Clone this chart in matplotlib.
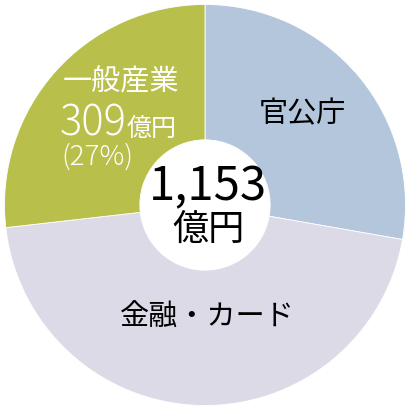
import matplotlib
matplotlib.use("Agg")
import matplotlib.pyplot as plt

plt.rcParams["font.family"] = ["Noto Sans CJK JP", "DejaVu Sans"]

# data (億円), clockwise from 12 o'clock
categories = ["官公庁", "金融・カード", "一般産業"]
values = [320, 524, 309]
colors = ["#B3C6DB", "#DCDAE7", "#B8BF4B"]
total_label = "1,153"
unit = "億円"

PX = 200.5  # pie radius in pixels


def to_data(px, py):
    return (px - 205) / PX, (205 - py) / PX


fig = plt.figure(figsize=(4.11, 4.11), dpi=100)
ax = fig.add_axes([0, 0, 1, 1])
ax.pie(
    values,
    colors=colors,
    startangle=90,
    counterclock=False,
    radius=1.0,
    wedgeprops=dict(width=0.675, edgecolor="white", linewidth=0.6),
)
ax.set_xlim(-205 / PX, 206 / PX)
ax.set_ylim(-206 / PX, 205 / PX)
ax.set_aspect("equal")
ax.axis("off")

# segment labels
ax.text(*to_data(302, 114), categories[0], ha="center", va="center", fontsize=21, color="black")
ax.text(*to_data(207, 318), categories[1], ha="center", va="center", fontsize=21, color="black")
ax.text(*to_data(121, 82), categories[2], ha="center", va="center", fontsize=21, color="white")

# 一般産業 value
ax.text(*to_data(60, 135), str(values[2]), ha="left", va="baseline", fontsize=30,
        fontweight="light", color="white")
ax.text(*to_data(127, 136), unit, ha="left", va="baseline", fontsize=18, color="white")
share = round(values[2] / sum(values) * 100)
ax.text(*to_data(61, 157), f"({share}%)", ha="left", va="center", fontsize=20,
        fontweight="light", color="white")

# center total
ax.text(*to_data(208, 187), total_label, ha="center", va="center", fontsize=34, color="black")
ax.text(*to_data(208, 230), unit, ha="center", va="center", fontsize=26, color="black")

fig.savefig("out.png", dpi=100)
